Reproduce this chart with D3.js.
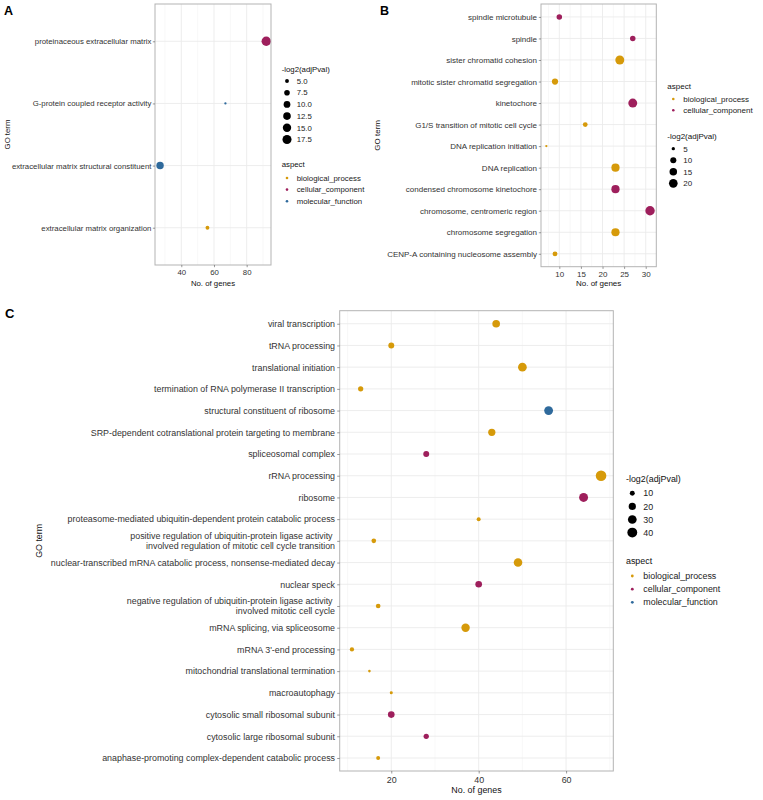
<!DOCTYPE html>
<html><head><meta charset="utf-8">
<script src="https://cdn.jsdelivr.net/npm/d3@7"></script>
<style>body{margin:0;background:#fff;} text{font-family:"Liberation Sans",Arial,Helvetica,sans-serif;}</style>
</head><body><svg id="chart" width="763" height="800"></svg>
<script>
// ---------- data ----------
const aspects = ["biological_process", "cellular_component", "molecular_function"];
const aspectColors = ["#D69A0A", "#9E1F5C", "#2F6A9C"];

// Panel A
const termsA = ["proteinaceous extracellular matrix", "G-protein coupled receptor activity",
  "extracellular matrix structural constituent", "extracellular matrix organization"];
const genesA = [92, 67, 27, 56];
const scoreA = [19, 4.3, 12, 5.0];
const aspectA = ["cellular_component", "molecular_function", "molecular_function", "biological_process"];
const xTicksA = [40, 60, 80];
const xMinorA = [30, 50, 70, 90];
const sizeBreaksA = [5.0, 7.5, 10.0, 12.5, 15.0, 17.5];
const legendAspectsA = ["biological_process", "cellular_component", "molecular_function"];

// Panel B
const termsB = ["spindle microtubule", "spindle", "sister chromatid cohesion",
  "mitotic sister chromatid segregation", "kinetochore", "G1/S transition of mitotic cell cycle",
  "DNA replication initiation", "DNA replication", "condensed chromosome kinetochore",
  "chromosome, centromeric region", "chromosome segregation", "CENP-A containing nucleosome assembly"];
const genesB = [10, 27, 24, 9, 27, 16, 7, 23, 23, 31, 23, 9];
const scoreB = [8.5, 8.5, 21.5, 10.5, 21.5, 7, 4.6, 18, 18, 24, 18, 7];
const aspectB = ["cellular_component", "cellular_component", "biological_process", "biological_process",
  "cellular_component", "biological_process", "biological_process", "biological_process",
  "cellular_component", "cellular_component", "biological_process", "biological_process"];
const xTicksB = [10, 15, 20, 25, 30];
const xMinorB = [7.5, 12.5, 17.5, 22.5, 27.5];
const sizeBreaksB = [5, 10, 15, 20];
const legendAspectsB = ["biological_process", "cellular_component"];

// Panel C
const termsC = ["viral transcription", "tRNA processing", "translational initiation",
  "termination of RNA polymerase II transcription", "structural constituent of ribosome",
  "SRP-dependent cotranslational protein targeting to membrane", "spliceosomal complex",
  "rRNA processing", "ribosome", "proteasome-mediated ubiquitin-dependent protein catabolic process",
  "positive regulation of ubiquitin-protein ligase activity \ninvolved regulation of mitotic cell cycle transition",
  "nuclear-transcribed mRNA catabolic process, nonsense-mediated decay", "nuclear speck",
  "negative regulation of ubiquitin-protein ligase activity \ninvolved mitotic cell cycle",
  "mRNA splicing, via spliceosome", "mRNA 3'-end processing", "mitochondrial translational termination",
  "macroautophagy", "cytosolic small ribosomal subunit", "cytosolic large ribosomal subunit",
  "anaphase-promoting complex-dependent catabolic process"];
const genesC = [44, 20, 50, 13, 56, 43, 28, 68, 64, 40, 16, 49, 40, 17, 37, 11, 15, 20, 20, 28, 17];
const scoreC = [22.7, 13.6, 30, 11, 31, 20.1, 13.6, 47, 32, 7.7, 9.2, 29, 16.9, 9.2, 28, 8.3, 6.5, 6.6, 16.9, 11, 7.7];
const aspectC = ["biological_process", "biological_process", "biological_process", "biological_process",
  "molecular_function", "biological_process", "cellular_component", "biological_process",
  "cellular_component", "biological_process", "biological_process", "biological_process",
  "cellular_component", "biological_process", "biological_process", "biological_process",
  "biological_process", "biological_process", "cellular_component", "cellular_component",
  "biological_process"];
const xTicksC = [20, 40, 60];
const xMinorC = [10, 30, 50, 70];
const sizeBreaksC = [10, 20, 30, 40];
const legendAspectsC = ["biological_process", "cellular_component", "molecular_function"];

// ---------- drawing ----------
const svg = d3.select("#chart");
svg.append("rect").attr("width", 763).attr("height", 800).attr("fill", "#fff");
const color = d3.scaleOrdinal().domain(aspects).range(aspectColors);

function drawPanel(p) {
  const g = svg.append("g");
  const x = d3.scaleLinear().domain(p.xDomain).range([p.left, p.right]);
  const y = d3.scalePoint().domain(p.terms).range([p.top, p.bottom]).padding(0.6);
  const sNorm = d3.scaleLinear().domain(p.sDomain).range([0, 1]).clamp(true);
  const rad = v => p.rRange[0] + (p.rRange[1] - p.rRange[0]) * Math.sqrt(sNorm(v));

  g.selectAll("line.minor").data(p.xMinor.filter(v => v > p.xDomain[0] && v < p.xDomain[1])).join("line")
    .attr("class", "minor")
    .attr("x1", d => x(d)).attr("x2", d => x(d)).attr("y1", p.top).attr("y2", p.bottom)
    .attr("stroke", "#f3f3f3").attr("stroke-width", 0.6);
  g.selectAll("line.majx").data(p.xTicks).join("line").attr("class", "majx")
    .attr("x1", d => x(d)).attr("x2", d => x(d)).attr("y1", p.top).attr("y2", p.bottom)
    .attr("stroke", "#ebebeb").attr("stroke-width", 0.9);
  g.selectAll("line.majy").data(p.terms).join("line").attr("class", "majy")
    .attr("x1", p.left).attr("x2", p.right).attr("y1", d => y(d)).attr("y2", d => y(d))
    .attr("stroke", "#ebebeb").attr("stroke-width", 0.9);

  const pts = p.terms.map((t, i) => ({ t, n: p.genes[i], s: p.score[i], a: p.aspect[i] }));
  g.selectAll("circle.pt").data(pts).join("circle").attr("class", "pt")
    .attr("cx", d => x(d.n)).attr("cy", d => y(d.t)).attr("r", d => rad(d.s))
    .attr("fill", d => color(d.a));

  g.append("rect").attr("x", p.left).attr("y", p.top)
    .attr("width", p.right - p.left).attr("height", p.bottom - p.top)
    .attr("fill", "none").attr("stroke", "#b3b3b3").attr("stroke-width", 1);

  // y axis
  const ay = g.append("g").attr("transform", `translate(${p.left},0)`)
    .call(d3.axisLeft(y).tickSize(p.tick).tickPadding(p.padY));
  ay.select(".domain").remove();
  ay.selectAll(".tick line").attr("stroke", "#555").attr("stroke-width", 0.6);
  ay.selectAll(".tick text").attr("fill", "#333").style("font-size", p.fs + "px")
    .style("font-family", '"Liberation Sans", Arial, sans-serif')
    .each(function (d) {
      const lines = d.split("\n");
      if (lines.length > 1) {
        const t = d3.select(this);
        t.text(null).attr("dy", null);
        const lh = p.fs * 1.12;
        lines.forEach((ln, i) => {
          t.append("tspan").attr("x", -(p.tick + p.padY))
            .attr("y", (i - (lines.length - 1) / 2) * lh)
            .attr("dy", "0.32em").style("white-space", "pre").text(ln);
        });
      }
    });

  // x axis
  const ax = g.append("g").attr("transform", `translate(0,${p.bottom})`)
    .call(d3.axisBottom(x).tickValues(p.xTicks).tickSize(p.tick).tickPadding(p.padX));
  ax.select(".domain").remove();
  ax.selectAll(".tick line").attr("stroke", "#555").attr("stroke-width", 0.6);
  ax.selectAll(".tick text").attr("fill", "#333").style("font-size", p.fs + "px")
    .style("font-family", '"Liberation Sans", Arial, sans-serif');

  // axis titles
  g.append("text").attr("x", (p.left + p.right) / 2).attr("y", p.xTitleY)
    .attr("text-anchor", "middle").style("font-size", p.fs + "px").attr("fill", "#111")
    .text("No. of genes");
  g.append("text").attr("transform", `translate(${p.yTitleX},${(p.top + p.bottom) / 2}) rotate(-90)`)
    .attr("text-anchor", "middle").style("font-size", p.fs + "px").attr("fill", "#111")
    .text("GO term");

  // panel letter
  g.append("text").attr("x", p.letterX).attr("y", p.letterY)
    .style("font-size", p.letterFs + "px").style("font-weight", "bold").attr("fill", "#000")
    .text(p.letter);

  // legends
  function sizeLegend(L) {
    const lg = g.append("g");
    lg.append("text").attr("x", L.x).attr("y", L.titleY + p.fs * 0.35)
      .style("font-size", p.fs + "px").attr("fill", "#111").text("-log2(adjPval)");
    p.sizeBreaks.forEach((b, i) => {
      const yy = L.y0 + i * L.step;
      lg.append("circle").attr("cx", L.dotX).attr("cy", yy).attr("r", rad(b)).attr("fill", "#000");
      lg.append("text").attr("x", L.labX).attr("y", yy + p.fs * 0.35)
        .style("font-size", p.fs + "px").attr("fill", "#222").text(p.sizeFmt(b));
    });
  }
  function aspectLegend(L) {
    const lg = g.append("g");
    lg.append("text").attr("x", L.x).attr("y", L.titleY + p.fs * 0.35)
      .style("font-size", p.fs + "px").attr("fill", "#111").text("aspect");
    p.legendAspects.forEach((a, i) => {
      const yy = L.y0 + i * L.step;
      lg.append("circle").attr("cx", L.dotX).attr("cy", yy).attr("r", p.keyR).attr("fill", color(a));
      lg.append("text").attr("x", L.labX).attr("y", yy + p.fs * 0.35)
        .style("font-size", p.fs + "px").attr("fill", "#222").text(a);
    });
  }
  sizeLegend(p.sizeLeg);
  aspectLegend(p.aspLeg);
}

drawPanel({
  terms: termsA, genes: genesA, score: scoreA, aspect: aspectA,
  xDomain: [23.9, 94.9], xTicks: xTicksA, xMinor: xMinorA,
  left: 155, right: 271, top: 4, bottom: 265,
  sDomain: [4.3, 19], rRange: [1.15, 4.7],
  fs: 7.8, tick: 2.2, padY: 1.4, padX: 2.6,
  xTitleY: 285.5, yTitleX: 9.5,
  letter: "A", letterX: 4, letterY: 15, letterFs: 12.5,
  sizeBreaks: sizeBreaksA, sizeFmt: d3.format(".1f"),
  legendAspects: legendAspectsA, keyR: 1.3,
  sizeLeg: { x: 281.7, titleY: 69, y0: 81, step: 11.7, dotX: 287, labX: 296.7 },
  aspLeg: { x: 281.7, titleY: 164, y0: 178, step: 11.6, dotX: 287, labX: 296.7 }
});

drawPanel({
  terms: termsB, genes: genesB, score: scoreB, aspect: aspectB,
  xDomain: [5.76, 32.45], xTicks: xTicksB, xMinor: xMinorB,
  left: 541, right: 656.3, top: 4, bottom: 266.7,
  sDomain: [4.6, 24], rRange: [1.15, 4.7],
  fs: 8.0, tick: 2.2, padY: 1.8, padX: 2.6,
  xTitleY: 285.5, yTitleX: 379.5,
  letter: "B", letterX: 380, letterY: 15, letterFs: 12.5,
  sizeBreaks: sizeBreaksB, sizeFmt: d3.format("d"),
  legendAspects: legendAspectsB, keyR: 1.3,
  sizeLeg: { x: 667.3, titleY: 135.7, y0: 148.7, step: 11.55, dotX: 673.3, labX: 683.3 },
  aspLeg: { x: 667.3, titleY: 85.7, y0: 99, step: 11.3, dotX: 673.3, labX: 683.3 }
});

drawPanel({
  terms: termsC, genes: genesC, score: scoreC, aspect: aspectC,
  xDomain: [8.2, 70.8], xTicks: xTicksC, xMinor: xMinorC,
  left: 339.7, right: 613.3, top: 310.7, bottom: 771,
  sDomain: [6.5, 47], rRange: [1.3, 5.3],
  fs: 8.9, tick: 2.5, padY: 2.2, padX: 2.8,
  xTitleY: 792.5, yTitleX: 42,
  letter: "C", letterX: 5, letterY: 318, letterFs: 13,
  sizeBreaks: sizeBreaksC, sizeFmt: d3.format("d"),
  legendAspects: legendAspectsC, keyR: 1.4,
  sizeLeg: { x: 626, titleY: 478.7, y0: 493.3, step: 13.1, dotX: 632.3, labX: 643.3 },
  aspLeg: { x: 626, titleY: 560.7, y0: 576, step: 13.15, dotX: 632.3, labX: 643.3 }
});
</script></body></html>
